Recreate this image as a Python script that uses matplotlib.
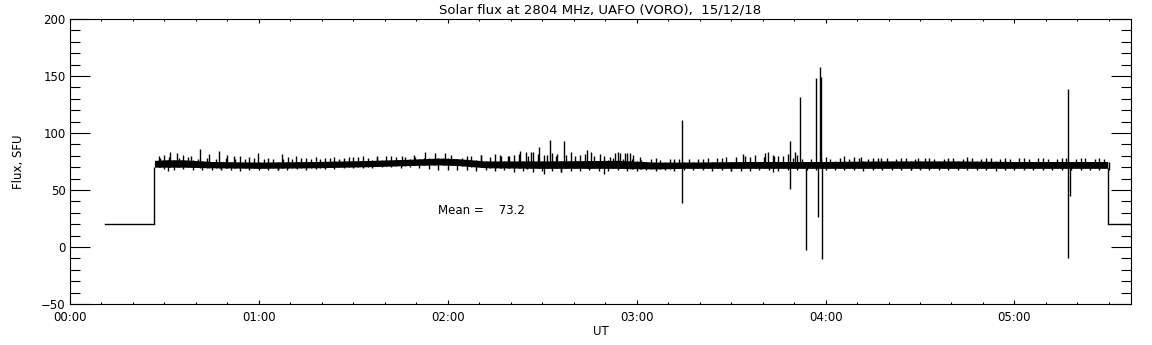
import numpy as np
import matplotlib
matplotlib.use('Agg')
import matplotlib.pyplot as plt
from matplotlib.ticker import MultipleLocator, FixedLocator

# --- data (time in hours UT, flux in SFU) ---
off_level = 20.0
lead_t = [0.185, 0.447]          # receiver off before start
trail_t = [5.494, 5.70]          # receiver off after end

band_t  = [0.447, 0.50, 0.60, 0.75, 1.00, 1.30, 1.60, 1.80, 1.95, 2.05, 2.20,
           2.50, 2.90, 3.10, 3.25, 3.60, 4.00, 4.30, 4.70, 5.00, 5.494]
band_lo = [70.0, 70.0, 70.0, 69.5, 69.0, 69.5, 70.5, 71.5, 72.0, 71.5, 69.5,
           69.0, 69.0, 68.5, 69.0, 69.0, 69.0, 69.0, 69.0, 69.0, 69.0]
band_hi = [76.0, 76.5, 76.5, 75.0, 74.5, 75.0, 76.0, 77.0, 78.0, 77.5, 75.5,
           75.5, 76.0, 74.5, 74.5, 75.0, 75.0, 75.5, 75.5, 75.0, 75.0]

# ragged edges of the noise band, sampled every 3 minutes from 00:28:30
edge_t0, edge_dt = 0.475, 0.05
edge_hi = [78.5, 79.2, 78.0, 78.8, 77.6, 78.4, 77.2, 78.1, 77.5, 76.9,
           77.8, 77.0, 76.8, 77.6, 77.1, 77.9, 76.9, 77.5, 78.2, 77.4,
           78.6, 79.0, 78.3, 79.4, 79.8, 79.1, 78.6, 79.0, 77.8, 77.2,
           78.0, 77.4, 78.3, 79.5, 80.4, 79.2, 80.8, 79.6, 81.2, 80.0,
           81.5, 80.6, 79.8, 81.0, 80.2, 81.4, 79.5, 80.1, 78.2, 76.8,
           77.3, 76.6, 77.2, 76.5, 77.0, 76.8, 77.4, 76.9, 77.8, 78.5,
           79.2, 78.6, 79.8, 80.5, 79.0, 79.4, 80.2, 78.4, 77.6, 77.2,
           77.8, 77.1, 78.0, 77.5, 78.3, 77.4, 77.9, 78.2, 77.3, 77.7,
           77.2, 78.1, 77.6, 77.0, 77.8, 77.4, 78.0, 77.3, 77.9, 77.5,
           77.2, 77.8, 77.4, 78.0, 77.6, 77.1, 77.7, 77.3, 77.9, 77.5,
           77.2]
edge_lo = [68.0, 67.6, 68.2, 67.4, 67.9, 67.2, 67.8, 67.5, 66.9, 67.6,
           67.2, 67.8, 67.4, 67.9, 68.2, 67.6, 68.4, 68.0, 68.6, 68.9,
           69.3, 69.6, 69.0, 69.8, 70.2, 69.5, 69.9, 69.1, 68.4, 67.8,
           67.4, 67.9, 67.2, 66.8, 67.5, 66.4, 67.2, 66.0, 66.9, 65.8,
           66.6, 67.1, 66.2, 66.9, 66.5, 67.2, 66.7, 67.0, 67.5, 67.1,
           66.8, 67.4, 67.0, 67.6, 66.9, 67.3, 67.8, 67.2, 66.9, 67.4,
           66.6, 67.1, 66.8, 67.3, 67.6, 67.0, 67.5, 67.2, 67.8, 67.3,
           67.6, 67.9, 67.4, 67.8, 67.1, 67.6, 67.3, 67.9, 67.5, 67.2,
           67.7, 67.4, 67.9, 67.3, 67.6, 67.2, 67.8, 67.5, 67.1, 67.6,
           67.9, 67.3, 67.7, 67.4, 67.8, 67.2, 67.6, 67.9, 67.3, 67.7,
           67.5]

# small upward excursions
up_t = [0.47, 0.50, 0.529, 0.564, 0.60, 0.64, 0.690, 0.737, 0.790, 0.832,
        0.87, 0.899, 0.95, 0.996, 1.05, 1.120, 1.155, 1.199, 1.25, 1.30,
        1.35, 1.40, 1.45, 1.50, 1.55, 1.623, 1.70, 1.76, 1.82, 1.878,
        1.931, 1.984, 2.019, 2.10, 2.178, 2.249, 2.284, 2.319, 2.35, 2.381,
        2.416, 2.443, 2.451, 2.483, 2.51, 2.543, 2.554, 2.58, 2.614, 2.654,
        2.70, 2.737, 2.760, 2.804, 2.857, 2.884, 2.90, 2.910, 2.937, 2.95,
        2.963, 2.981, 3.016, 3.10, 3.20, 3.35, 3.45, 3.563, 3.60, 3.677,
        3.695, 3.72, 3.75, 3.80, 3.836, 3.85, 4.00, 4.10, 4.153, 4.189,
        4.25, 4.295, 4.40, 4.489, 4.55, 4.65, 4.75, 4.85, 4.95, 5.05,
        5.15, 5.25, 5.35, 5.45]
up_v = [80.0, 81.0, 83.6, 82.2, 80.7, 80.0, 86.0, 81.3, 84.5, 80.7,
        79.5, 80.1, 79.0, 82.2, 78.5, 81.3, 79.2, 80.1, 78.5, 79.0,
        78.5, 79.0, 78.5, 79.0, 79.5, 79.2, 80.0, 80.0, 80.5, 83.0,
        82.2, 82.2, 80.7, 80.0, 80.7, 81.3, 80.1, 80.1, 80.5, 84.5,
        83.0, 83.6, 83.6, 88.0, 81.0, 93.9, 82.2, 82.0, 93.0, 83.6,
        81.0, 85.1, 83.6, 81.3, 79.0, 82.2, 83.0, 82.2, 82.2, 82.5,
        82.2, 80.7, 79.2, 78.0, 77.5, 77.5, 78.0, 81.3, 79.0, 82.2,
        83.0, 81.0, 80.0, 82.0, 83.6, 81.0, 79.0, 79.5, 79.2, 79.2,
        78.5, 77.8, 78.5, 78.4, 78.0, 78.5, 79.0, 78.0, 78.5, 78.0,
        78.5, 78.0, 78.5, 78.0]

# small downward excursions
dn_t = [0.52, 0.80, 1.10, 2.42, 2.508, 2.60, 2.825, 3.50, 3.721, 4.45]
dn_v = [67.0, 68.0, 67.5, 68.1, 63.8, 66.0, 63.8, 67.0, 65.5, 67.5]

# interference spikes: time, top, bottom
spk_t   = [3.240, 3.811, 3.864, 3.896, 3.949, 3.959, 3.970, 3.975, 3.980, 5.282, 5.292]
spk_top = [111.4, 93.0, 131.6, 72.0, 148.2, 72.0, 157.9, 149.1, 72.0, 138.6, 72.0]
spk_bot = [38.9, 51.0, 72.0, -2.4, 72.0, 26.6, 72.0, 72.0, -10.3, -9.6, 45.0]

mean_flux = 73.2
hour_labels = ['00:00', '01:00', '02:00', '03:00', '04:00', '05:00']

fig = plt.figure(figsize=(11.52, 3.45), dpi=100, facecolor='white')
ax = fig.add_axes([70/1152, 1 - 304/345, (1131 - 70)/1152, (304 - 19)/345])

lw = 1.0
ax.plot(lead_t, [off_level, off_level], color='k', lw=lw)
ax.vlines(lead_t[1], off_level, band_lo[0], colors='k', lw=lw)
ax.plot(trail_t, [off_level, off_level], color='k', lw=lw)
ax.vlines(trail_t[0], off_level, band_lo[-1], colors='k', lw=lw)

ax.fill_between(band_t, band_lo, band_hi, color='k', lw=0)

edge_t = edge_t0 + edge_dt * np.arange(len(edge_hi))
mid = np.interp(edge_t, band_t, band_lo)
ax.vlines(edge_t, mid, edge_hi, colors='k', lw=lw)
mid = np.interp(edge_t + edge_dt / 2, band_t, band_hi)
ax.vlines(edge_t + edge_dt / 2, edge_lo, mid, colors='k', lw=lw)

base = np.interp(up_t, band_t, band_lo)
ax.vlines(up_t, base, up_v, colors='k', lw=lw)
base = np.interp(dn_t, band_t, band_hi)
ax.vlines(dn_t, dn_v, base, colors='k', lw=lw)
ax.vlines(spk_t, spk_bot, spk_top, colors='k', lw=lw)

ax.text(1.947, 31.8, 'Mean =    %.1f' % mean_flux, fontsize=8.5, va='center', ha='left')

ax.set_xlim(0, 5.617)
ax.set_ylim(-50, 200)
ax.xaxis.set_major_locator(FixedLocator(range(len(hour_labels))))
ax.set_xticklabels(hour_labels)
ax.xaxis.set_minor_locator(MultipleLocator(1/6))
ax.yaxis.set_major_locator(MultipleLocator(50))
ax.yaxis.set_minor_locator(MultipleLocator(10))

ax.tick_params(axis='both', which='both', direction='in', width=0.8, colors='k',
               labelsize=8.5, top=True, right=True)
ax.tick_params(axis='x', which='major', length=3.2, pad=5)
ax.tick_params(axis='x', which='minor', length=1.6)
ax.tick_params(axis='y', which='major', length=14.4, pad=3)
ax.tick_params(axis='y', which='minor', length=7.2)
for s in ax.spines.values():
    s.set_linewidth(0.8)

ax.set_xlabel('UT', fontsize=8.5, labelpad=1)
ax.set_ylabel('Flux, SFU', fontsize=8.5, labelpad=12)
fig.text(600/1152, 1 - 10/345, 'Solar flux at 2804 MHz, UAFO (VORO),  15/12/18',
         fontsize=9.5, ha='center', va='center')

fig.savefig('out.png', dpi=100, facecolor='white')
